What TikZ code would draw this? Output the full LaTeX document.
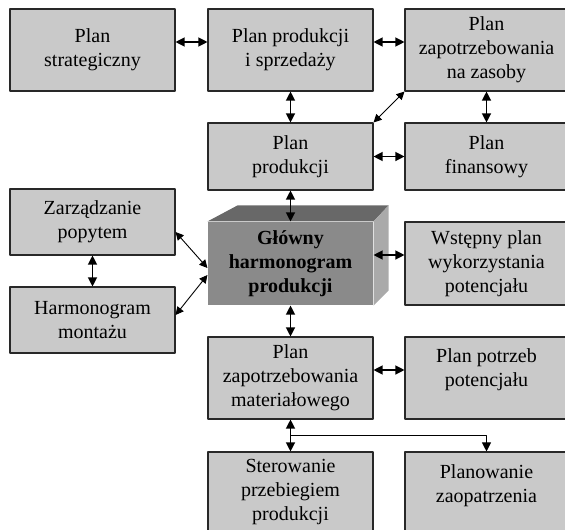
\documentclass[tikz,border=0pt]{standalone}
\usepackage{fontspec}
\setmainfont{Liberation Serif}
\usetikzlibrary{arrows.meta,calc}
\definecolor{boxgray}{RGB}{201,201,201}
\definecolor{frontgray}{RGB}{138,138,138}
\definecolor{topgray}{RGB}{104,104,104}
\definecolor{sidegray}{RGB}{170,170,170}
\definecolor{edgegray}{RGB}{40,40,40}

\begin{document}
\begin{tikzpicture}[x=1pt,y=-1pt,line join=round,
  box/.style={draw=edgegray,line width=1.1pt,fill=boxgray,align=center,inner sep=2pt,
    minimum width=165pt,font=\fontsize{20}{24}\selectfont},
  link/.style={{Triangle[length=9pt,width=9pt]}-{Triangle[length=9pt,width=9pt]},line width=1.2pt},
  slant/.style={{Triangle[length=8pt,width=8pt]}-{Triangle[length=8pt,width=8pt]},line width=0.9pt}]
\useasboundingbox (0,0) rectangle (565,530);

\node[box,minimum height=82pt] (strat) at (92.5,50) {Plan\\strategiczny};
\node[box,minimum height=82pt] (prodsprz) at (290.5,50) {Plan produkcji\\i sprzedaży};
\node[box,minimum height=82pt,minimum width=163pt] (zasoby) at (486.5,50) {Plan\\zapotrzebowania\\na zasoby};
\node[box,minimum height=67pt] (prod) at (290.5,156.5) {Plan\\produkcji};
\node[box,minimum height=67pt,minimum width=163pt] (finans) at (486.5,156.5) {Plan\\finansowy};
\node[box,minimum height=66pt] (popyt) at (92.5,222) {Zarządzanie\\popytem};
\node[box,minimum height=66pt] (montaz) at (92.5,320) {Harmonogram\\montażu};
\node[box,draw=none,fill=frontgray,minimum height=83pt,font=\fontsize{20}{24}\selectfont\bfseries] (ghp) at (290.5,263.5) {Główny\\harmonogram\\produkcji};
\node[box,minimum height=83pt,minimum width=163pt] (wstepny) at (486.5,263.5) {Wstępny plan\\wykorzystania\\potencjału};
\node[box,minimum height=82pt] (mat) at (290.5,378) {Plan\\zapotrzebowania\\materiałowego};
\node[box,minimum height=82pt,minimum width=163pt,text depth=20pt] (potrz) at (486.5,378) {Plan potrzeb\\potencjału};
\node[box,minimum height=80pt] (sterow) at (290.5,492) {Sterowanie\\przebiegiem\\produkcji};
\node[box,minimum height=80pt,minimum width=163pt,text depth=17pt] (zaopatrz) at (486.5,492) {Planowanie\\zaopatrzenia};

% faces of the block
\fill[topgray] (ghp.north west) -- ++(30,-16) -- ($(ghp.north east)+(15,-16)$) -- (ghp.north east) -- cycle;
\fill[sidegray] (ghp.north east) -- ++(15,-16) -- ($(ghp.south east)+(15,-15)$) -- (ghp.south east) -- cycle;

\draw[link] ([yshift=8pt]strat.east) -- ([yshift=8pt]prodsprz.west);
\draw[link] ([yshift=8pt]prodsprz.east) -- ([yshift=8pt]zasoby.west);
\draw[link] (prodsprz.south) -- (prod.north);
\draw[link] (zasoby.south) -- (finans.north);
\draw[slant] (prod.north east) -- (zasoby.south west);
\draw[link] (prod.east) -- (finans.west);
\draw[link] (prod.south) -- (ghp.north);
\draw[link] (popyt.south) -- (montaz.north);
\draw[slant] ([yshift=-10pt]popyt.east) -- ([yshift=-4.5pt]ghp.west);
\draw[slant] ([yshift=5pt]montaz.east) -- ([yshift=-11.5pt]ghp.west);
\draw[link] ([yshift=8.5pt]ghp.east) -- ([yshift=8.5pt]wstepny.west);
\draw[link] (ghp.south) -- (mat.north);
\draw[link] ([yshift=8pt]mat.east) -- ([yshift=8pt]potrz.west);
\draw[link] (mat.south) -- (sterow.north);
\coordinate (split) at ($(mat.south)!0.5!(sterow.north)$);
\draw[line width=1pt,-{Triangle[length=9pt,width=9pt]}] (split) -| (zaopatrz.north);
\end{tikzpicture}
\end{document}
